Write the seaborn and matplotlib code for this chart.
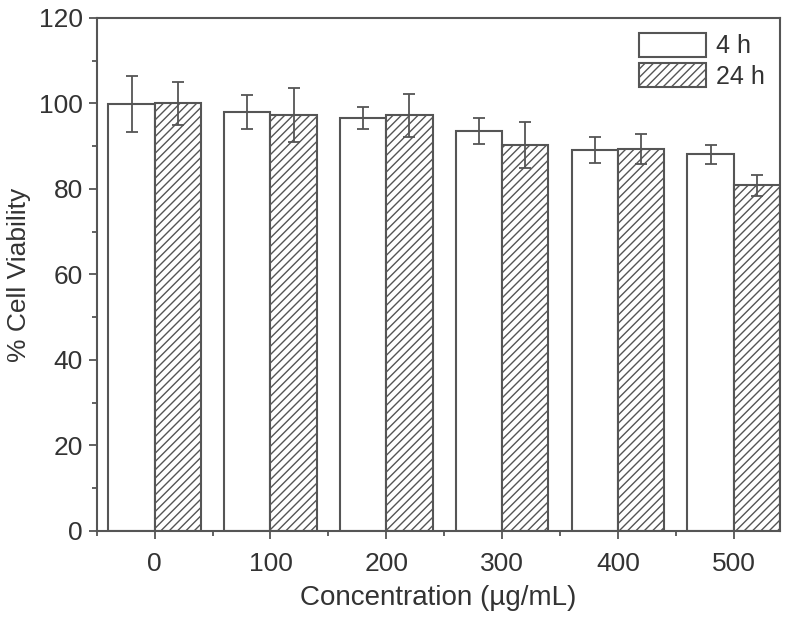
import pandas as pd
import matplotlib
matplotlib.use('Agg')
import matplotlib.pyplot as plt
from matplotlib.patches import Patch
from matplotlib.ticker import MultipleLocator
import seaborn as sns

# --- Data ---
concentrations = ['0', '100', '200', '300', '400', '500']
times = ['4 h', '24 h']
viability_4h = [99.9, 97.9, 96.6, 93.6, 89.1, 88.1]
viability_24h = [100.0, 97.3, 97.2, 90.3, 89.3, 80.8]
err_4h = [6.6, 4.0, 2.5, 3.0, 3.0, 2.2]
err_24h = [5.0, 6.3, 5.0, 5.3, 3.5, 2.5]

# --- Styling ---
sns.set_theme(style="ticks")
plt.rcParams['font.family'] = ['Liberation Sans', 'DejaVu Sans']
plt.rcParams['hatch.linewidth'] = 1.0
LINE = '#555555'
TEXT = '#333333'

df = pd.DataFrame({
    'conc': concentrations * 2,
    'time': [times[0]] * len(concentrations) + [times[1]] * len(concentrations),
    'viability': viability_4h + viability_24h,
    'err': err_4h + err_24h,
})

fig = plt.figure(figsize=(8, 6.18), dpi=100)
ax = fig.add_axes([0.121, 0.141, 0.854, 0.830])

sns.barplot(data=df, x='conc', y='viability', hue='time', order=concentrations,
            hue_order=times, errorbar=None, width=0.8, ax=ax, legend=False)

# style bars and add error bars from the bar positions
for container, t in zip(ax.containers, times):
    sub = df[df['time'] == t].set_index('conc').loc[concentrations]
    xs = []
    for bar in container:
        bar.set_facecolor('white')
        bar.set_edgecolor(LINE)
        bar.set_linewidth(1.5)
        if t == '24 h':
            bar.set_hatch('////')
        xs.append(bar.get_x() + bar.get_width() / 2)
    ax.errorbar(xs, sub['viability'], yerr=sub['err'], fmt='none',
                ecolor=LINE, elinewidth=1.3, capsize=4, capthick=1.3)

ax.set_xlim(-0.5, 5.4)
ax.set_ylim(0, 120)
ax.yaxis.set_major_locator(MultipleLocator(20))
ax.yaxis.set_minor_locator(MultipleLocator(10))
ax.xaxis.set_minor_locator(MultipleLocator(0.5))
ax.xaxis.set_minor_formatter(plt.NullFormatter())

for side in ['left', 'right', 'top', 'bottom']:
    ax.spines[side].set_visible(True)
    ax.spines[side].set_color(LINE)
    ax.spines[side].set_linewidth(1.5)

ax.tick_params(which='major', direction='out', length=6, width=1.3, pad=4,
               color=LINE, labelsize=19, labelcolor=TEXT, top=False, right=False)
ax.tick_params(axis='x', which='major', pad=9)
ax.tick_params(which='minor', direction='out', length=3.5, width=1.3,
               color=LINE, top=False, right=False)

ax.set_xlabel('Concentration (µg/mL)', fontsize=20, color=TEXT, labelpad=7)
ax.set_ylabel('% Cell Viability', fontsize=19, color=TEXT, labelpad=6)

handles = [
    Patch(facecolor='white', edgecolor=LINE, linewidth=1.5, label=times[0]),
    Patch(facecolor='white', edgecolor=LINE, linewidth=1.5, hatch='////', label=times[1]),
]
leg = ax.legend(handles=handles, loc='upper right', frameon=False, fontsize=18,
                handlelength=2.7, handleheight=1.1, handletextpad=0.4,
                labelspacing=0.2, borderaxespad=0.2)
for txt in leg.get_texts():
    txt.set_color(TEXT)

fig.savefig('out.png', dpi=100)
